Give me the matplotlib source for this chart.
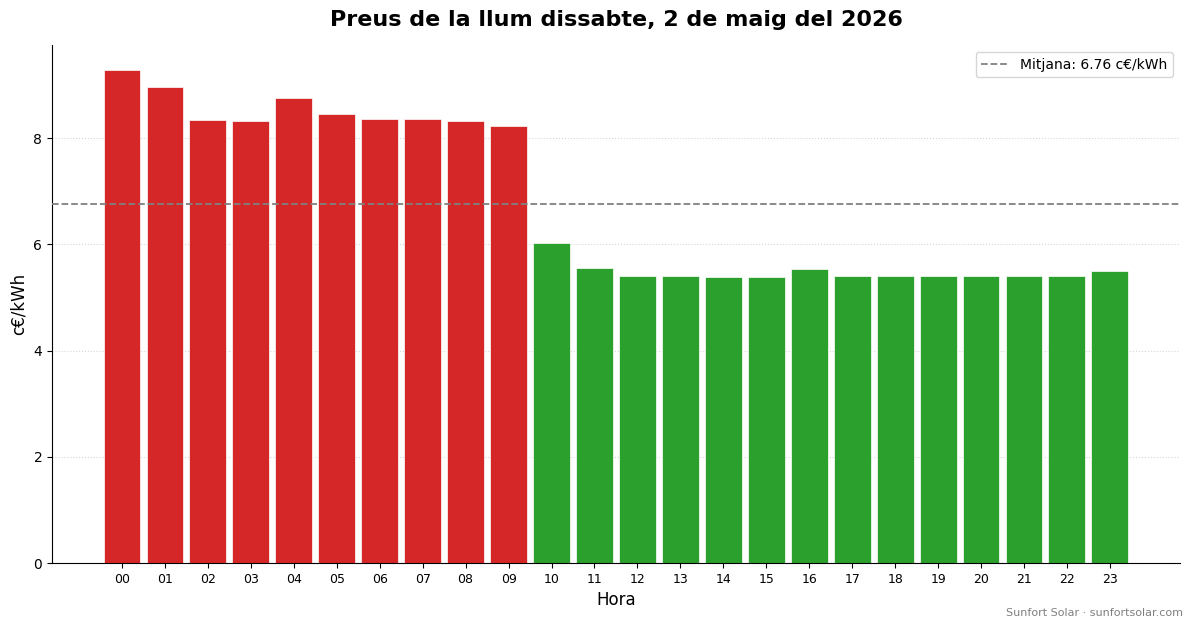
import matplotlib
matplotlib.use("Agg")
import matplotlib.pyplot as plt
import numpy as np

hours = ["00", "01", "02", "03", "04", "05", "06", "07", "08", "09", "10", "11",
         "12", "13", "14", "15", "16", "17", "18", "19", "20", "21", "22", "23"]
prices = [9.29, 8.97, 8.35, 8.32, 8.75, 8.46, 8.37, 8.37, 8.32, 8.22, 6.03, 5.55,
          5.41, 5.41, 5.39, 5.39, 5.53, 5.41, 5.41, 5.41, 5.41, 5.41, 5.41, 5.49]
mean_price = 6.76

fig = plt.figure(figsize=(11.93, 6.28), dpi=100)
ax = fig.add_axes([0.0436, 0.1035, 0.9454, 0.8245])

x = np.arange(len(hours))
colors = ["#d62728" if p > mean_price else "#2ca02c" for p in prices]
ax.bar(x, prices, width=0.86, color=colors, edgecolor="white", linewidth=0.5, zorder=2)
ax.axhline(mean_price, color="gray", linestyle="--", linewidth=1.3,
           label=f"Mitjana: {mean_price:.2f} c€/kWh", zorder=3)

ax.set_xticks(x)
ax.set_xticklabels(hours, fontsize=9)
ax.tick_params(axis="y", labelsize=10)
ax.set_xlim(-1.63, 24.63)
ax.set_ylim(0, 9.75)
ax.set_xlabel("Hora", fontsize=12)
ax.set_ylabel("c€/kWh", fontsize=12)
ax.set_title("Preus de la llum dissabte, 2 de maig del 2026", fontsize=16,
             fontweight="bold", pad=14)
ax.grid(axis="y", linestyle=":", color="#cccccc", alpha=0.8, zorder=0)
ax.set_axisbelow(True)
ax.spines["top"].set_visible(False)
ax.spines["right"].set_visible(False)
ax.legend(loc="upper right", fontsize=10)

fig.text(0.9916, 0.024, "Sunfort Solar · sunfortsolar.com", ha="right", va="center",
         fontsize=8, color="gray")

fig.savefig("out.png", dpi=100)
